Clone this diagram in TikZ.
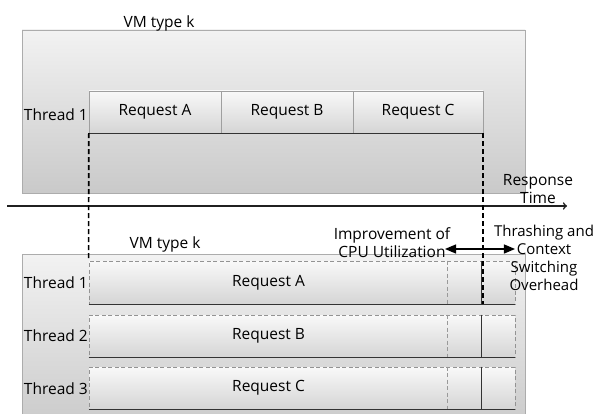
\documentclass[tikz,border=0pt]{standalone}
\usepackage{fontspec}
\setmainfont{Open Sans}
\usetikzlibrary{arrows, positioning, shapes}

\tikzset{
  vmbox/.style={draw=gray!65, top color=gray!10, bottom color=gray!42, minimum width=503pt, inner sep=0pt},
  reqbox/.style={draw=gray!75, top color=gray!5, bottom color=gray!33, minimum height=42pt, inner sep=0pt},
  rowbox/.style={draw=gray!85, dash pattern=on 4pt off 2.5pt, line width=0.8pt, top color=gray!5, bottom color=gray!33, minimum width=426pt, inner sep=0pt},
  lbl/.style={font=\fontsize{15.5}{18}\selectfont, inner sep=0pt, text=black},
  tlbl/.style={lbl, anchor=east},
}

\begin{document}
\begin{tikzpicture}[x=1pt, y=-1pt]
\clip (0,0) rectangle (596,414);

   % Upper VM: one thread, requests one after another
      \node[vmbox, minimum height=163pt]                  (vmtop) at (273.5,111.5) {};
      \node[lbl]                                          (vmk0)  at (159,23)      {VM type k};
      \node[reqbox, minimum width=132pt, lbl]             (reqA)  at (155,112)     {Request A};
      \node[reqbox, minimum width=132pt, lbl]             (reqB)  at (287,112)     {Request B};
      \node[reqbox, minimum width=130pt, lbl]             (reqC)  at (418,112)     {Request C};
      \node[tlbl]                                         (thr0)  at (88,115)      {Thread 1};

   % Lower VM: three threads side by side
      \node[vmbox, minimum height=176pt]                  (vmbot) at (273.5,342)   {};
      \node[lbl]                                          (vmk1)  at (165,244)     {VM type k};
      \node[rowbox, minimum height=43pt]                  (rowA)  at (302,282.5)   {};
      \node[rowbox, minimum height=42pt]                  (rowB)  at (302,336)     {};
      \node[rowbox, minimum height=42pt]                  (rowC)  at (302,388)     {};
      \node[lbl]                                          (txtA)  at (268.5,282.5) {Request A};
      \node[lbl]                                          (txtB)  at (268.5,336)   {Request B};
      \node[lbl]                                          (txtC)  at (268.5,388)   {Request C};
      \node[tlbl]                                         (thr1)  at (88,283)      {Thread 1};
      \node[tlbl]                                         (thr2)  at (88,336)      {Thread 2};
      \node[tlbl]                                         (thr3)  at (88,389)      {Thread 3};

   % Labels on the right
      \node[lbl, align=center]                            (resp)  at (538,189)     {Response\\Time};
      \node[lbl, align=center]                            (impr)  at (392,243)     {Improvement of\\CPU Utilization};
      \node[lbl, align=center, font=\fontsize{15}{18}\selectfont] (thrs) at (544,257.5) {Thrashing and\\Context\\Switching\\Overhead};
      \coordinate (t0) at (7,206);
      \coordinate (t1) at (567,206);
      \coordinate (dl) at (445,249);
      \coordinate (dr) at (515,249);

   % Paths
      \foreach \r in {rowA,rowB,rowC} {
         \draw[gray!40!black, line width=1.2pt] (\r.south west) -- (\r.south east);
         \draw[gray!80, dash pattern=on 4pt off 2.5pt, line width=0.8pt] (\r.north west) ++(359,0) coordinate (ta) -- (ta |- \r.south);
         \draw[gray!40!black, line width=0.8pt] (\r.north west) ++(393,0) coordinate (tb) -- (tb |- \r.south);
      }
      \draw[gray!40!black, line width=1pt] (reqA.south west) -- (reqC.south east);
      \draw[->, gray!25!black, line width=1.6pt] (t0) -- (t1);
      \draw[dash pattern=on 5pt off 3pt, line width=1.6pt] (reqA.south west) -- (rowA.north west);
      \draw[dash pattern=on 5pt off 3pt, line width=1.6pt] (reqC.south east) -- (reqC.south east |- rowA.south);
      \draw[<->, >=triangle 45, line width=1.6pt] (dl) -- (dr);
\end{tikzpicture}
\end{document}
